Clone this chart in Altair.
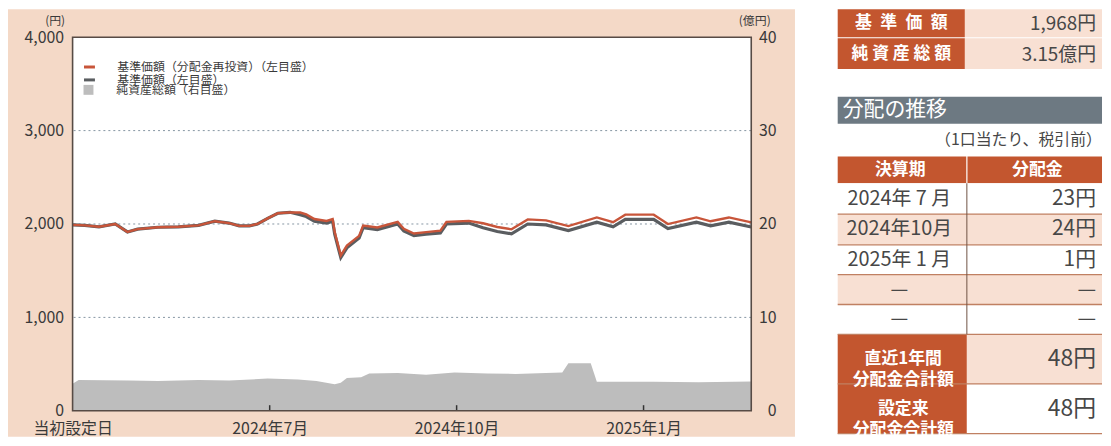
import altair as alt
import pandas as pd

# ---------------- values ----------------
DATES = ["2024-03-26", "2024-04-01", "2024-04-08", "2024-04-16", "2024-04-22", "2024-04-27",
         "2024-05-07", "2024-05-17", "2024-05-27", "2024-06-04", "2024-06-11", "2024-06-16",
         "2024-06-21", "2024-06-25", "2024-06-30", "2024-07-05", "2024-07-11", "2024-07-16",
         "2024-07-19", "2024-07-23", "2024-07-29", "2024-08-01", "2024-08-02", "2024-08-05",
         "2024-08-08", "2024-08-14", "2024-08-16", "2024-08-23", "2024-09-02", "2024-09-05",
         "2024-09-10", "2024-09-16", "2024-09-23", "2024-09-26", "2024-10-07", "2024-10-14",
         "2024-10-21", "2024-10-28", "2024-11-05", "2024-11-14", "2024-11-25", "2024-12-09",
         "2024-12-17", "2024-12-23", "2025-01-06", "2025-01-13", "2025-01-27", "2025-02-03",
         "2025-02-12", "2025-02-23"]
NAV = [1990, 1985, 1970, 2000, 1915, 1945, 1965, 1970, 1985, 2030, 2010, 1980,
       1980, 2000, 2060, 2115, 2125, 2100, 2080, 2030, 2010, 2030, 1890, 1640,
       1745, 1850, 1960, 1940, 2000, 1925, 1875, 1890, 1905, 2000, 2010, 1960,
       1920, 1895, 2000, 1990, 1930, 2020, 1970, 2050, 2050, 1950, 2020, 1980,
       2020, 1968]
NAV_REINVEST = [1990, 1985, 1970, 2000, 1915, 1945, 1965, 1970, 1985, 2030, 2010, 1980,
                1980, 2000, 2060, 2115, 2125, 2123, 2103, 2053, 2033, 2053, 1913, 1663,
                1768, 1873, 1983, 1963, 2023, 1948, 1898, 1913, 1928, 2023, 2033, 2008,
                1968, 1943, 2049, 2039, 1978, 2070, 2019, 2100, 2100, 1999, 2070, 2029,
                2070, 2017]
AUM_DATES = ["2024-03-26", "2024-03-29", "2024-04-23", "2024-05-07", "2024-05-27", "2024-06-11",
             "2024-06-30", "2024-07-15", "2024-07-24", "2024-08-02", "2024-08-05", "2024-08-08",
             "2024-08-15", "2024-08-19", "2024-09-02", "2024-09-16", "2024-09-30", "2024-10-16",
             "2024-10-30", "2024-11-14", "2024-11-22", "2024-11-25", "2024-12-06", "2024-12-09",
             "2025-01-06", "2025-01-28", "2025-02-23"]
AUM = [2.9, 3.3, 3.25, 3.2, 3.3, 3.25, 3.45, 3.35, 3.2, 2.85, 3.0, 3.5, 3.6, 4.0,
       4.05, 3.85, 4.1, 4.0, 3.95, 4.05, 4.1, 5.1, 5.1, 3.1, 3.1, 3.05, 3.15]

SERIES = ["基準価額（分配金再投資）（左目盛）", "基準価額（左目盛）", "純資産総額（右目盛）"]

Y_LEFT_TICKS = [0, 1000, 2000, 3000, 4000]
Y_RIGHT_TICKS = [0, 10, 20, 30, 40]
GRID_VALUES = [1000, 2000, 3000]
X_START, X_END = "2024-03-26", "2025-02-23"
X_TICK_DATES = ["2024-03-26", "2024-07-01", "2024-10-01", "2025-01-01"]
X_TICK_LABELS = ["当初設定日", "2024年7月", "2024年10月", "2025年1月"]
INNER_TICK_DATES = ["2024-07-01", "2024-10-01", "2025-01-01"]

TOP_LABELS = ["基\u2002準\u2002価\u2002額", "純 資 産 総 額"]
TOP_VALUES = ["1,968円", "3.15億円"]
SECTION_TITLE = "分配の推移"
SECTION_NOTE = "（1口当たり、税引前）"
TABLE_HEADERS = ["決算期", "分配金"]
DIST_PERIODS = ["2024年 7 月", "2024年10月", "2025年 1 月", "—", "—"]
DIST_AMOUNTS = ["23円", "24円", "1円", "—", "—"]
SUMMARY_LABELS = ["直近1年間\n分配金合計額", "設定来\n分配金合計額"]
SUMMARY_VALUES = ["48円", "48円"]

# ---------------- styles ----------------
FONT = "Noto Sans CJK JP"
PEACH = "#f4d9c7"
PEACH_LIGHT = "#f8e0d3"
ORANGE = "#c3562f"
SLATE = "#6d7982"
BORDER = "#574b45"
TEXT = "#3a3a3a"
TABLE_TEXT = "#474747"
RED = "#c8553a"
DARK = "#5a5d60"
AREA = "#bdbdbd"
GRID = "#8595a2"


def ms(s):
    return int(pd.Timestamp(s, tz="UTC").value // 10**6)


def dt(s):
    t = pd.Timestamp(s)
    return alt.DateTime(year=t.year, month=t.month, date=t.day, utc=True)


label_expr = "''"
for d, lab in reversed(list(zip(X_TICK_DATES, X_TICK_LABELS))):
    label_expr = f"abs(time(datum.value) - {ms(d)}) < 43200000 ? '{lab}' : ({label_expr})"

PW, PH = 683, 376

x_enc = alt.X(
    "date:T",
    scale=alt.Scale(type="utc", domain=[dt(X_START), dt(X_END)]),
    axis=alt.Axis(values=[ms(d) for d in X_TICK_DATES], labelExpr=label_expr, ticks=False,
                  domain=False, grid=False, labelPadding=10, labelFontSize=16, labelColor=TEXT,
                  labelFlush=False, labelOverlap=False, zindex=1),
    title=None,
)

y_left = alt.Y(
    "value:Q",
    scale=alt.Scale(domain=[0, 4000], nice=False),
    axis=alt.Axis(orient="left", values=Y_LEFT_TICKS, format=",d", ticks=False, domain=False,
                  grid=False, labelPadding=9, labelFontSize=16, labelColor=TEXT,
                  title="(円)", titleAngle=0, titleAlign="right", titleBaseline="middle",
                  titleX=-8, titleY=-17, titleFontSize=12, titleFontWeight="normal",
                  titleColor=TEXT, zindex=1),
)

y_right = alt.Y(
    "aum:Q",
    scale=alt.Scale(domain=[0, 40], nice=False),
    axis=alt.Axis(orient="right", values=Y_RIGHT_TICKS, ticks=False, domain=False, grid=False,
                  labelAlign="right", labelPadding=25, labelFontSize=16, labelColor=TEXT,
                  title="(億円)", titleAngle=0, titleAlign="center", titleBaseline="middle",
                  titleX=3, titleY=-17, titleFontSize=12, titleFontWeight="normal",
                  titleColor=TEXT, zindex=1),
)

stroke_scale = alt.Scale(domain=SERIES[:2], range=[RED, DARK])
stroke_legend = alt.Legend(title=None, orient="none", legendX=10, legendY=23, symbolType="stroke",
                           symbolSize=121, symbolStrokeWidth=3, labelFontSize=12,
                           labelColor=TEXT, labelOffset=21, rowPadding=0, padding=0,
                           labelLimit=400)
fill_legend = alt.Legend(title=None, orient="none", legendX=10, legendY=47, symbolType="square",
                         symbolSize=100, symbolStrokeWidth=0, labelFontSize=12,
                         labelColor=TEXT, labelOffset=22, padding=0, labelLimit=400)

one = pd.DataFrame({"k": [0]})
nav_gray = pd.DataFrame({"date": DATES, "value": NAV, "series": SERIES[1]})
nav_red = pd.DataFrame({"date": DATES, "value": NAV_REINVEST, "series": SERIES[0]})
aum_df = pd.DataFrame({"date": AUM_DATES, "aum": AUM, "series": SERIES[2]})
grid_df = pd.DataFrame({"value": GRID_VALUES})
tick_df = pd.DataFrame({"date": INNER_TICK_DATES,
                        "value": [0] * len(INNER_TICK_DATES),
                        "value2": [60] * len(INNER_TICK_DATES)})

panel = alt.Chart(one).mark_rect(color=PEACH).encode(
    x=alt.value(-65), x2=alt.value(PW + 44), y=alt.value(-28), y2=alt.value(PH + 26))
plot_bg = alt.Chart(one).mark_rect(color="white").encode(
    x=alt.value(0), x2=alt.value(PW), y=alt.value(0), y2=alt.value(PH))
border = alt.Chart(one).mark_rect(fillOpacity=0, stroke=BORDER, strokeWidth=1.6).encode(
    x=alt.value(0), x2=alt.value(PW), y=alt.value(0), y2=alt.value(PH))

area = alt.Chart(aum_df).mark_area(opacity=1).encode(
    x=x_enc, y=y_right,
    fill=alt.Fill("series:N", scale=alt.Scale(domain=[SERIES[2]], range=[AREA]),
                  legend=fill_legend))

grid = alt.Chart(grid_df).mark_rule(color=GRID, strokeDash=[2, 3], strokeWidth=1).encode(y=y_left)
line_gray = alt.Chart(nav_gray).mark_line(strokeWidth=3.2).encode(
    x=x_enc, y=y_left,
    stroke=alt.Stroke("series:N", scale=stroke_scale, legend=stroke_legend))
line_red = alt.Chart(nav_red).mark_line(strokeWidth=2.4).encode(
    x=x_enc, y=y_left,
    stroke=alt.Stroke("series:N", scale=stroke_scale, legend=stroke_legend))
ticks = alt.Chart(tick_df).mark_rule(color="#333333", strokeWidth=1.5).encode(
    x=x_enc, y=y_left, y2=alt.Y2("value2:Q"))

lines_group = alt.layer(grid, line_gray, line_red, ticks)

left = alt.layer(panel, plot_bg, area, lines_group, border).resolve_scale(
    y="independent").properties(width=PW, height=PH)

# ---------------- table panel ----------------
# table coordinates: page y = c + 8; the panel's view is aligned with the plot's top (page 36)
T_W, T_H = 266, PH
T_OFF = 28
SPLIT = 130
TOP_SPLIT = 128
TOP_ROWS = [(0, 28), (29, 60)]
BAR = (88, 115)
NOTE_Y = 132
HEAD = (148, 175)
ROW_EDGES = [175, 206, 237, 267, 297, 327]
SUM_EDGES = [327, 377, 427]

sx = alt.Scale(domain=[0, T_W], nice=False, zero=False)
sy = alt.Scale(domain=[T_OFF, T_OFF + T_H], nice=False, zero=False, reverse=True)

cells = []
for (a, b) in TOP_ROWS:
    cells.append(dict(x0=0, x1=TOP_SPLIT, y0=a, y1=b, fill=ORANGE))
    cells.append(dict(x0=TOP_SPLIT, x1=T_W, y0=a, y1=b, fill=PEACH_LIGHT))
cells.append(dict(x0=0, x1=T_W, y0=BAR[0], y1=BAR[1], fill=SLATE))
cells.append(dict(x0=0, x1=SPLIT - 0.6, y0=HEAD[0], y1=HEAD[1], fill=ORANGE))
cells.append(dict(x0=SPLIT + 0.6, x1=T_W, y0=HEAD[0], y1=HEAD[1], fill=ORANGE))
for i in range(len(DIST_PERIODS)):
    cells.append(dict(x0=0, x1=T_W, y0=ROW_EDGES[i], y1=ROW_EDGES[i + 1],
                      fill="white" if i % 2 == 0 else PEACH_LIGHT))
for i in range(len(SUMMARY_LABELS)):
    cells.append(dict(x0=0, x1=SPLIT, y0=SUM_EDGES[i], y1=SUM_EDGES[i + 1], fill=ORANGE))
    cells.append(dict(x0=SPLIT, x1=T_W, y0=SUM_EDGES[i], y1=SUM_EDGES[i + 1],
                      fill=PEACH_LIGHT if i % 2 == 0 else "white"))
cells_df = pd.DataFrame(cells)

cell_layer = alt.Chart(cells_df).mark_rect(strokeWidth=0).encode(
    x=alt.X("x0:Q", scale=sx, axis=None), x2="x1:Q",
    y=alt.Y("y0:Q", scale=sy, axis=None), y2="y1:Q",
    color=alt.Color("fill:N", scale=None))

hlines = pd.DataFrame({"x0": 0, "x1": T_W, "y0": ROW_EDGES[1:] + SUM_EDGES[1:]})
hline_layer = alt.Chart(hlines).mark_rule(color="#c08062", strokeWidth=1.3).encode(
    x=alt.X("x0:Q", scale=sx, axis=None), x2="x1:Q", y=alt.Y("y0:Q", scale=sy, axis=None))
vline_df = pd.DataFrame({"x0": [SPLIT], "y0": [HEAD[1]], "y1": [SUM_EDGES[0]]})
vline_layer = alt.Chart(vline_df).mark_rule(color="#6f5244", strokeWidth=1).encode(
    x=alt.X("x0:Q", scale=sx, axis=None), y=alt.Y("y0:Q", scale=sy, axis=None), y2="y1:Q")


def text_layer(rows, align, size, color, weight="normal", line_height=None):
    df = pd.DataFrame(rows, columns=["x", "y", "t"])
    kw = dict(align=align, baseline="middle", fontSize=size, color=color, fontWeight=weight,
              lineBreak="\n")
    if line_height is not None:
        kw["lineHeight"] = line_height
    return alt.Chart(df).mark_text(**kw).encode(
        x=alt.X("x:Q", scale=sx, axis=None), y=alt.Y("y:Q", scale=sy, axis=None), text="t:N")


t_top_lab = text_layer([(TOP_SPLIT / 2, (a + b) / 2, s) for (a, b), s in zip(TOP_ROWS, TOP_LABELS)],
                       "center", 17, "white", "bold")
t_top_val = text_layer([(T_W - 6, (a + b) / 2 + 1, s) for (a, b), s in zip(TOP_ROWS, TOP_VALUES)],
                       "right", 19, TABLE_TEXT)
t_bar = text_layer([(5, (BAR[0] + BAR[1]) / 2, SECTION_TITLE)], "left", 21, "white")
t_note = text_layer([(T_W, NOTE_Y, SECTION_NOTE)], "right", 16, TABLE_TEXT)
t_head = text_layer([(SPLIT / 2 - 2, (HEAD[0] + HEAD[1]) / 2, TABLE_HEADERS[0]),
                     ((SPLIT + T_W) / 2 + 3, (HEAD[0] + HEAD[1]) / 2, TABLE_HEADERS[1])],
                    "center", 17, "white", "bold")
t_per = text_layer([(SPLIT / 2 - 3, (ROW_EDGES[i] + ROW_EDGES[i + 1]) / 2, s)
                    for i, s in enumerate(DIST_PERIODS)], "center", 20, TABLE_TEXT)
t_amt = text_layer([(T_W - 6, (ROW_EDGES[i] + ROW_EDGES[i + 1]) / 2, s)
                    for i, s in enumerate(DIST_AMOUNTS)], "right", 21, TABLE_TEXT)
t_sum_lab = text_layer([(SPLIT / 2 + 1, (SUM_EDGES[i] + SUM_EDGES[i + 1]) / 2, s)
                        for i, s in enumerate(SUMMARY_LABELS)], "center", 17, "white", "bold", 21)
t_sum_val = text_layer([(T_W - 6, (SUM_EDGES[i] + SUM_EDGES[i + 1]) / 2, s)
                        for i, s in enumerate(SUMMARY_VALUES)], "right", 23, TABLE_TEXT)

table = alt.layer(cell_layer, hline_layer, vline_layer, t_top_lab, t_top_val, t_bar, t_note,
                  t_head, t_per, t_amt, t_sum_lab, t_sum_val).properties(width=T_W, height=T_H)

chart = alt.hconcat(left, table, spacing=42).properties(
    padding=0, background="white"
).configure(font=FONT).configure_view(strokeWidth=0)

chart.save("out.html", embed_options={"renderer": "svg", "actions": False})
